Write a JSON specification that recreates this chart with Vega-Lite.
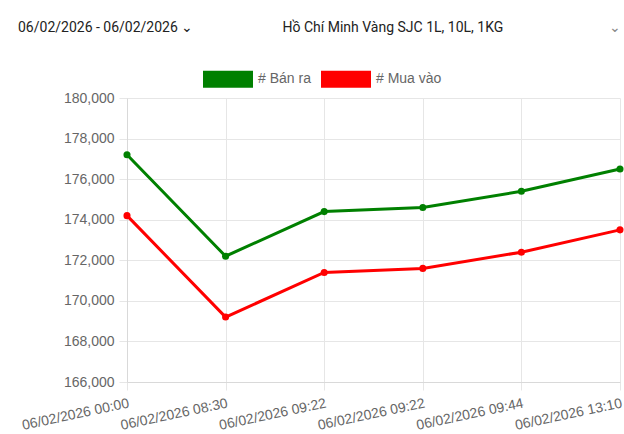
{
  "$schema": "https://vega.github.io/schema/vega-lite/v6.json",
  "autosize": {"type": "none"},
  "width": 493,
  "height": 284,
  "padding": {"left": 127, "top": 98, "right": 4, "bottom": 52},
  "background": "#ffffff",
  "title": {
    "text": "06/02/2026 - 06/02/2026 ⌄",
    "anchor": "start",
    "frame": "group",
    "orient": "top",
    "dx": -109,
    "dy": 26,
    "font": "Roboto",
    "fontSize": 14,
    "fontWeight": "normal",
    "color": "#222222",
    "baseline": "middle"
  },
  "data": {
    "values": [
      {"time": "06/02/2026 00:00:01", "series": "# Bán ra", "price": 177200},
      {"time": "06/02/2026 08:30:02", "series": "# Bán ra", "price": 172200},
      {"time": "06/02/2026 09:22:03", "series": "# Bán ra", "price": 174400},
      {"time": "06/02/2026 09:22:04", "series": "# Bán ra", "price": 174600},
      {"time": "06/02/2026 09:44:05", "series": "# Bán ra", "price": 175400},
      {"time": "06/02/2026 13:10:06", "series": "# Bán ra", "price": 176500},
      {"time": "06/02/2026 00:00:01", "series": "# Mua vào", "price": 174200},
      {"time": "06/02/2026 08:30:02", "series": "# Mua vào", "price": 169200},
      {"time": "06/02/2026 09:22:03", "series": "# Mua vào", "price": 171400},
      {"time": "06/02/2026 09:22:04", "series": "# Mua vào", "price": 171600},
      {"time": "06/02/2026 09:44:05", "series": "# Mua vào", "price": 172400},
      {"time": "06/02/2026 13:10:06", "series": "# Mua vào", "price": 173500}
    ]
  },
  "encoding": {
    "x": {
      "field": "time",
      "type": "ordinal",
      "scale": {"type": "point", "padding": 0},
      "axis": {
        "title": "⌄",
        "titleX": 481,
        "titleY": -355,
        "titleAlign": "left",
        "titleBaseline": "middle",
        "titleFont": "Roboto",
        "titleFontSize": 14,
        "titleFontWeight": "normal",
        "titleColor": "#888888",
        "labelExpr": "substring(datum.label, 0, 16)",
        "labelAngle": -12,
        "labelAlign": "right",
        "labelBaseline": "top",
        "labelPadding": 6,
        "tickSize": 8,
        "grid": true
      }
    },
    "y": {
      "field": "price",
      "type": "quantitative",
      "scale": {"domain": [166000, 180000], "nice": false, "zero": false},
      "axis": {
        "values": [166000, 168000, 170000, 172000, 174000, 176000, 178000, 180000],
        "format": ",d",
        "title": "Hồ Chí Minh Vàng SJC 1L, 10L, 1KG",
        "titleAngle": 0,
        "titleX": 155,
        "titleY": -71,
        "titleAlign": "left",
        "titleBaseline": "middle",
        "titleFont": "Roboto",
        "titleFontSize": 14,
        "titleFontWeight": "normal",
        "titleColor": "#222222",
        "tickSize": 8,
        "labelPadding": 5,
        "grid": true
      }
    },
    "color": {
      "field": "series",
      "type": "nominal",
      "scale": {"domain": ["# Bán ra", "# Mua vào"], "range": ["#008000", "#ff0000"]},
      "legend": {
        "title": null,
        "orient": "none",
        "legendX": 76,
        "legendY": -44,
        "direction": "horizontal",
        "symbolType": "M-1,-0.34H1V0.34H-1Z",
        "symbolSize": 2500,
        "symbolStrokeWidth": 0,
        "symbolOpacity": 1,
        "labelFont": "Liberation Sans",
        "labelFontSize": 14,
        "labelColor": "#666666",
        "labelOffset": 5,
        "columnPadding": 10
      }
    }
  },
  "layer": [
    {"mark": {"type": "line", "strokeWidth": 3}},
    {"mark": {"type": "point", "filled": true, "size": 50, "opacity": 1}}
  ],
  "config": {
    "view": {"stroke": null},
    "axis": {
      "labelFont": "Liberation Sans",
      "labelFontSize": 14,
      "labelColor": "#666666",
      "gridColor": "#e6e6e6",
      "tickColor": "#e6e6e6",
      "domainColor": "#d9d9d9"
    }
  }
}
